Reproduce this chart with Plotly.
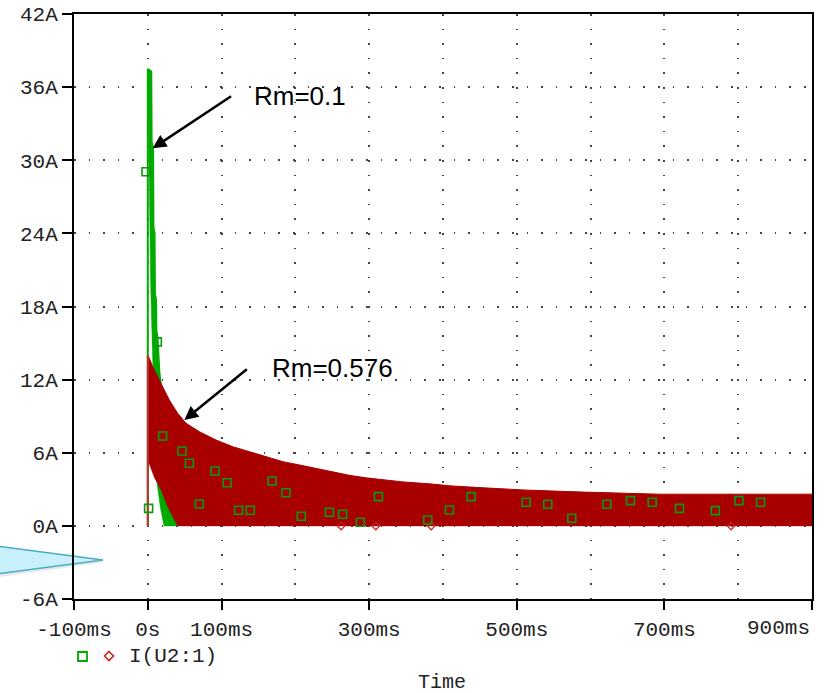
import plotly.graph_objects as go

# ---------------- data ----------------
# time in ms, current in A
red_upper_t = [0, 2.0, 6.5, 13.3, 20.1, 29.1, 40.4, 51.8, 69.8, 92.4, 115, 137.6, 160.2,
               182.9, 205.4, 228, 250.5, 273, 296, 318.5, 345.5, 381.8, 411, 456, 508,
               580, 693, 900]
red_upper_v = [14.0, 13.76, 13.07, 12.25, 11.3, 10.33, 9.24, 8.42, 7.73, 7.05, 6.5, 6.09, 5.68,
               5.27, 5.0, 4.72, 4.45, 4.15, 3.94, 3.77, 3.61, 3.45, 3.28, 3.12, 2.95,
               2.79, 2.60, 2.60]
red_lower_t = [0, 2.0, 8.8, 17.9, 26.8, 35.9, 40.4, 900]
red_lower_v = [5.1, 5.1, 4.0, 2.95, 1.6, 0.5, 0.0, 0.0]

green_upper_t = [0, 5, 5.5, 7.5, 8, 9.5, 10, 11.5, 12, 13.5, 16, 20, 30, 40]
green_upper_v = [37.5, 37.3, 31.5, 31.0, 24.5, 24.0, 19.0, 18.6, 16.0, 15.5, 12.6, 10.5, 7.5, 5.0]
green_lower_t = [0, 1.5, 2.5, 3.8, 6, 8, 10, 12.6, 17, 22, 40]
green_lower_v = [37.5, 30.0, 24.5, 20.0, 15.0, 10.0, 6.5, 3.45, 1.5, 0.0, 0.0]

green_marker_t = [-2.4, 12.9, 1.1, 20.1, 46.4, 56.3, 69.8, 91.1, 107.4, 123.1, 138.9, 168.4,
                  187.3, 208.1, 246, 264, 288, 312.5, 379.3, 408.7, 438.1, 512.7, 542,
                  574.5, 622, 654, 683.5, 720.5, 769, 801, 830.3]
green_marker_v = [29.06, 15.1, 1.44, 7.37, 6.14, 5.14, 1.80, 4.50, 3.54, 1.28, 1.28, 3.68,
                  2.72, 0.79, 1.12, 0.95, 0.30, 2.40, 0.48, 1.30, 2.40, 1.94, 1.77,
                  0.62, 1.77, 2.07, 1.94, 1.44, 1.25, 2.07, 1.94]
red_marker_t = [262, 309, 384, 790.5]
red_marker_v = [0, 0, 0, 0]

x_tickvals = [-100, 0, 100, 300, 500, 700, 900]
x_ticktext = ['-100ms', '0s', '100ms', '300ms', '500ms', '700ms', '']
x_last_label = '900ms'
x_minor_grid = [200, 400, 600, 800]
y_tickvals = [-6, 0, 6, 12, 18, 24, 30, 36, 42]
y_ticktext = ['-6A', '0A', '6A', '12A', '18A', '24A', '30A', '36A', '42A']

GREEN = '#00AA00'
GREEN_MK = '#0A9A0A'
RED = '#A80000'
MONO = 'Liberation Mono, Courier New, monospace'
SANS = 'Liberation Sans, Arial, sans-serif'
FS = 21

fig = go.Figure()

# green (Rm=0.1) trace : thin line at t=0 and oscillation band
fig.add_trace(go.Scatter(x=[0, 0], y=[0, green_upper_v[0]], mode='lines',
                         line=dict(color=GREEN, width=2), hoverinfo='skip', showlegend=False))
fig.add_trace(go.Scatter(x=green_lower_t, y=green_lower_v, mode='lines',
                         line=dict(color=GREEN, width=0.5), showlegend=False, hoverinfo='skip'))
fig.add_trace(go.Scatter(x=green_upper_t, y=green_upper_v, mode='lines', fill='tonexty',
                         fillcolor=GREEN, line=dict(color=GREEN, width=1.5),
                         showlegend=False, hoverinfo='skip'))

# red (Rm=0.576) trace : thin line at t=0 and oscillation band
fig.add_trace(go.Scatter(x=red_lower_t, y=red_lower_v, mode='lines',
                         line=dict(color=RED, width=0.5), showlegend=False, hoverinfo='skip'))
fig.add_trace(go.Scatter(x=red_upper_t, y=red_upper_v, mode='lines', fill='tonexty',
                         fillcolor=RED, line=dict(color=RED, width=1),
                         showlegend=False, hoverinfo='skip'))
fig.add_trace(go.Scatter(x=[0, 0], y=[0, red_upper_v[0]], mode='lines',
                         line=dict(color='#C03030', width=2), hoverinfo='skip', showlegend=False))

# markers
fig.add_trace(go.Scatter(x=red_marker_t, y=red_marker_v, mode='markers',
                         marker=dict(symbol='diamond-open', size=6, color='#D02020',
                                     line=dict(width=1.2, color='#D02020')),
                         showlegend=False, hoverinfo='skip'))
fig.add_trace(go.Scatter(x=green_marker_t, y=green_marker_v, mode='markers',
                         marker=dict(symbol='square-open', size=8, color=GREEN_MK,
                                     line=dict(width=1.6, color=GREEN_MK)),
                         showlegend=False, hoverinfo='skip'))

# ---------------- layout ----------------
W, H = 825, 693
PAGE_L, PAGE_R, PAGE_T, PAGE_B = 74, 812, 14, 599   # plot area in pixels
L, T, R, B = PAGE_L, PAGE_T, W - PAGE_R, H - PAGE_B
PW, PH = PAGE_R - PAGE_L, PAGE_B - PAGE_T


def px(xp):
    return (xp - PAGE_L) / PW


def py(yp):
    return (PAGE_B - yp) / PH


fig.update_layout(
    width=W, height=H,
    margin=dict(l=L, r=R, t=T, b=B, pad=0, autoexpand=False),
    paper_bgcolor='white', plot_bgcolor='white',
    showlegend=False,
    font=dict(family=MONO, size=FS, color='#222222'),
)

fig.update_xaxes(
    range=[-100, 900], tickvals=x_tickvals, ticktext=x_ticktext,
    ticks='outside', ticklen=9, tickwidth=1.5, tickcolor='black',
    showline=True, linewidth=2, linecolor='black', mirror=True,
    showgrid=True, gridcolor='#444444', gridwidth=1.6, griddash='1.6px,13px',
    minor=dict(tickvals=x_minor_grid, showgrid=True, gridcolor='#444444', gridwidth=1.6,
               griddash='1.6px,13px', ticks=''),
    zeroline=False, ticklabelstandoff=1, automargin=False,
    tickfont=dict(family=MONO, size=FS, color='#222222'),
)
fig.update_yaxes(
    range=[-6, 42], tickvals=y_tickvals, ticktext=y_ticktext,
    ticks='outside', ticklen=10, tickwidth=1.5, tickcolor='black',
    showline=True, linewidth=2, linecolor='black', mirror=True,
    showgrid=True, gridcolor='#444444', gridwidth=1.6, griddash='1.6px,13px',
    zeroline=False, automargin=False,
    tickfont=dict(family=MONO, size=FS, color='#222222'),
)

# call-out pointer shape at the left (cropped speech bubble)
fig.add_shape(type='path', xref='paper', yref='paper', layer='below',
              path=f'M {px(-20)} {py(547)} L {px(105)} {py(562)} L {px(-20)} {py(580)} Z',
              fillcolor='#D8D8D8', line=dict(width=0), opacity=0.6)
fig.add_shape(type='path', xref='paper', yref='paper', layer='below',
              path=f'M {px(-20)} {py(544)} L {px(103)} {py(560)} L {px(-20)} {py(576)} Z',
              fillcolor='#C8F0FD', line=dict(color='#4AACC6', width=1.5))

# legend symbols (PSpice style)
fig.add_shape(type='rect', xref='paper', yref='paper',
              x0=px(78), x1=px(87), y0=py(661), y1=py(652),
              line=dict(color=GREEN, width=1.8), fillcolor='rgba(0,0,0,0)')
fig.add_shape(type='path', xref='paper', yref='paper',
              path=f'M {px(109)} {py(651.5)} L {px(113.5)} {py(656)} L {px(109)} {py(660.5)} '
                   f'L {px(104.5)} {py(656)} Z',
              line=dict(color='#D02020', width=1.6), fillcolor='rgba(0,0,0,0)')

annotations = [
    dict(text=x_last_label, xref='x', yref='paper', x=900, y=py(628),
         xanchor='right', yanchor='middle', showarrow=False,
         font=dict(family=MONO, size=FS, color='#222222')),
    dict(text='I(U2:1)', xref='paper', yref='paper', x=px(127), y=py(656),
         xanchor='left', yanchor='middle', showarrow=False,
         font=dict(family=MONO, size=FS, color='#222222')),
    dict(text='Time', xref='paper', yref='paper', x=px(442), y=py(682),
         xanchor='center', yanchor='middle', showarrow=False,
         font=dict(family=MONO, size=20, color='#222222')),
    dict(text='Rm=0.1', x=206.7, y=35.27, xref='x', yref='y', showarrow=False,
         xanchor='center', yanchor='middle', font=dict(family=SANS, size=26, color='black')),
    dict(text='Rm=0.576', x=250.8, y=12.95, xref='x', yref='y', showarrow=False,
         xanchor='center', yanchor='middle', font=dict(family=SANS, size=26, color='black')),
    dict(text='', x=6.5, y=30.98, xref='x', yref='y', showarrow=True,
         ax=80, ay=-53, axref='pixel', ayref='pixel',
         arrowhead=2, arrowsize=1.1, arrowwidth=2.5, arrowcolor='black', standoff=0),
    dict(text='', x=49.5, y=8.69, xref='x', yref='y', showarrow=True,
         ax=64, ay=-52, axref='pixel', ayref='pixel',
         arrowhead=2, arrowsize=1.1, arrowwidth=2.5, arrowcolor='black', standoff=0),
]
fig.update_layout(annotations=annotations)

# the page body normally has an 8px margin; remove it so the figure fills the window
fig.write_html('out.html', config={'displayModeBar': False},
               post_script="document.body.style.margin='0';")
